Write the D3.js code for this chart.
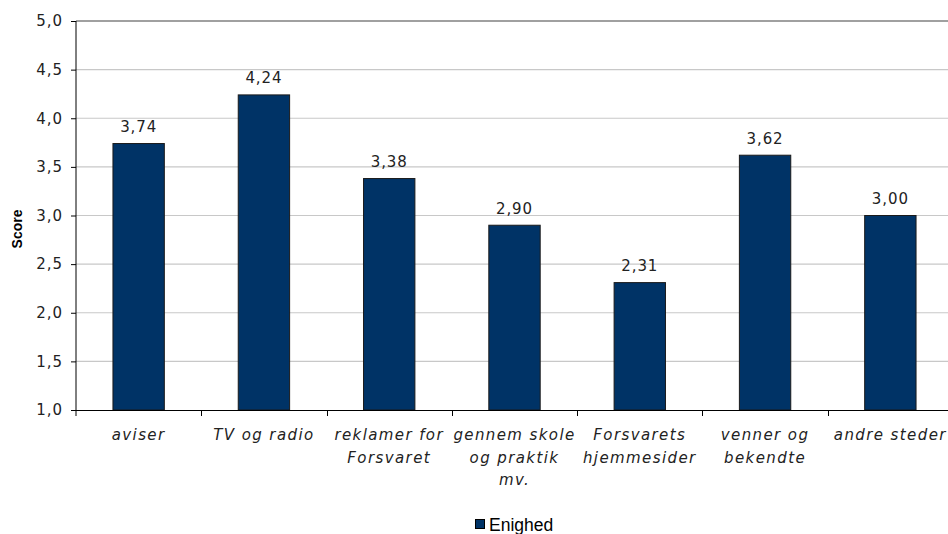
<!DOCTYPE html>
<html><head><meta charset="utf-8">
<script src="https://cdn.jsdelivr.net/npm/d3@7"></script>
<style>body{margin:0;background:#fff}svg{display:block}</style>
</head><body><div id="c"></div>
<script>
const categories = [["aviser"],["TV og radio"],["reklamer for","Forsvaret"],["gennem skole","og praktik","mv."],["Forsvarets","hjemmesider"],["venner og","bekendte"],["andre steder"]];
const values = [3.74, 4.24, 3.38, 2.90, 2.31, 3.62, 3.00];
const yTicks = [1.0,1.5,2.0,2.5,3.0,3.5,4.0,4.5,5.0];
const seriesName = "Enighed";

(function(){
const W=948,H=534;
const svg=d3.select("#c").append("svg").attr("width",W).attr("height",H);
const pL=76,pR=953,pT=21,pB=410;
const fmt=v=>v.toFixed(2).replace(".",",");
const fmt1=v=>v.toFixed(1).replace(".",",");
const x=d3.scaleBand().domain(d3.range(categories.length)).range([pL,pR]).paddingInner(0.59).paddingOuter(0.295);
const y=d3.scaleLinear().domain([1,5]).range([pB,pT]);
const font="DejaVu Sans";

svg.append("g").selectAll("line").data(yTicks.filter(t=>t>1)).join("line")
 .attr("x1",pL).attr("x2",W).attr("y1",d=>y(d)).attr("y2",d=>y(d))
 .attr("stroke",d=>d===5?"#a0a0a0":"#c8c8c8").attr("stroke-width",d=>d===5?2:1.2);

svg.append("g").selectAll("rect").data(values).join("rect")
 .attr("x",(d,i)=>x(i)).attr("width",x.bandwidth())
 .attr("y",d=>y(d)).attr("height",d=>y(1)-y(d))
 .attr("fill","#003366").attr("stroke","#1a1a1a").attr("stroke-width",1);

svg.append("g").selectAll("text").data(values).join("text")
 .attr("x",(d,i)=>x(i)+x.bandwidth()/2).attr("y",d=>y(d)-11.5)
 .attr("text-anchor","middle").attr("font-family",font).attr("font-size",15)
 .attr("letter-spacing",0.9).attr("fill","#222").text(d=>fmt(d));

const ya=svg.append("g").attr("transform",`translate(${pL},0)`)
 .call(d3.axisLeft(y).tickValues(yTicks).tickSize(5).tickPadding(8).tickFormat(fmt1));
ya.select(".domain").attr("stroke","#000").attr("d",`M0,${pT}V${pB+6}`);
ya.selectAll(".tick line").attr("stroke","#000");
ya.selectAll(".tick text").attr("font-family",font).attr("font-size",15).attr("letter-spacing",1).attr("fill","#222");

svg.append("line").attr("x1",pL).attr("x2",W).attr("y1",pB+0.5).attr("y2",pB+0.5).attr("stroke","#000");
const bounds=d3.range(1,categories.length).map(i=>x(i)-x.step()*x.paddingInner()/2);
svg.append("g").selectAll("line").data(bounds).join("line")
 .attr("x1",d=>Math.round(d)+0.5).attr("x2",d=>Math.round(d)+0.5).attr("y1",pB).attr("y2",pB+6).attr("stroke","#000");

const xl=svg.append("g").selectAll("text").data(categories).join("text")
 .attr("x",(d,i)=>x(i)+x.bandwidth()/2).attr("y",440)
 .attr("text-anchor","middle").attr("font-family",font).attr("font-size",15)
 .attr("font-style","italic").attr("letter-spacing",1.4).attr("fill","#222");
xl.selectAll("tspan").data(d=>d).join("tspan")
 .attr("x",function(){return this.parentNode.getAttribute("x");})
 .attr("dy",(d,j)=>j===0?0:22.5).text(d=>d);

svg.append("text").attr("transform","translate(22,229) rotate(-90)").attr("text-anchor","middle")
 .attr("font-family","Liberation Sans").attr("font-weight","bold").attr("font-size",14).attr("fill","#000").text("Score");

const lg=svg.append("g");
lg.append("rect").attr("x",475.5).attr("y",519.5).attr("width",9).attr("height",9).attr("fill","#003366").attr("stroke","#000");
lg.append("text").attr("x",489).attr("y",531).attr("font-family","Liberation Sans").attr("font-size",17.5).attr("fill","#000").text(seriesName);
})();
</script></body></html>
